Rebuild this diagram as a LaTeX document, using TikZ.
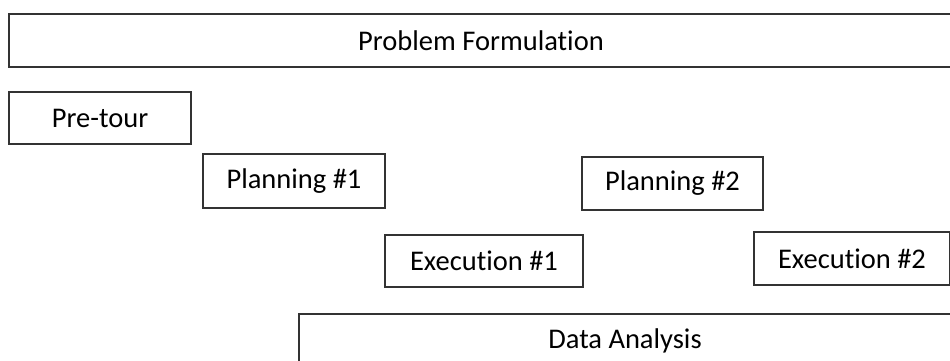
\documentclass[tikz,border=0pt]{standalone}
\usepackage{fontspec}
\setmainfont{Carlito}[Ligatures=NoCommon]
\begin{document}
\begin{tikzpicture}[x=1pt,y=-1pt,
  phase/.style={draw=black!80, line width=1.4pt, rectangle, inner sep=0pt,
    font=\fontsize{28.5}{32}\selectfont, text=black}]
\useasboundingbox (0,0) rectangle (950,361);
\clip (0,0) rectangle (950,361);
% box(name, x1, y1, x2, y2, label)
\newcommand\phasebox[6]{%
  \node[phase, minimum width={#4-#2}, minimum height={#5-#3}]
    (#1) at ({(#2+#4)/2},{(#3+#5)/2}) {#6};}
\phasebox{pf}{9}{14}{953}{67}{Problem Formulation}
\phasebox{pre}{9}{92}{191}{144}{Pre-tour}
\phasebox{plan1}{203}{154}{385}{208}{Planning \#1}
\phasebox{exec1}{385}{235}{583}{287}{Execution \#1}
\phasebox{plan2}{582}{157}{763}{210}{Planning \#2}
\phasebox{exec2}{754}{232}{950}{285}{Execution \#2}
\phasebox{da}{299}{314}{951}{367}{Data Analysis}
\end{tikzpicture}
\end{document}
